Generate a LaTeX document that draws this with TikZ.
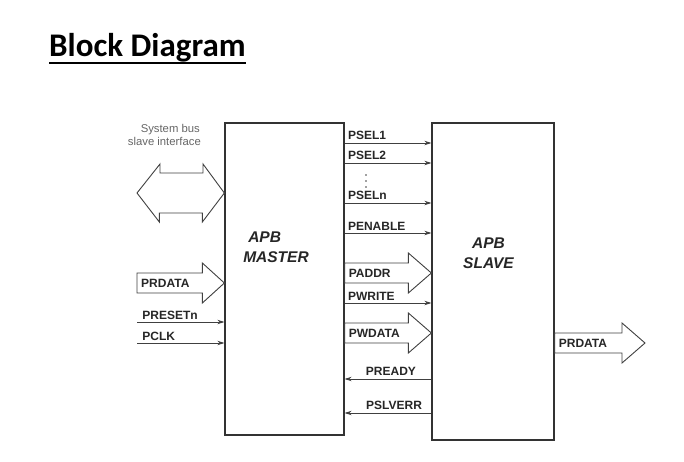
\documentclass[tikz,border=0pt]{standalone}
\usepackage{fontspec}
\setmainfont{Liberation Sans}
\newfontfamily\titlefont{Carlito}
\usetikzlibrary{arrows.meta,calc}

\tikzset{
  box/.style={draw=black!80, line width=1.3pt, minimum width=119pt, minimum height=312pt, inner sep=0},
  sig/.style={draw=black!75, line width=0.8pt},
  tip/.style={-{Stealth[length=7pt,width=4.5pt]}},
  bus/.style={draw=black!75, line width=0.9pt, fill=white},
  siglabel/.style={font=\fontsize{12}{12}\selectfont\bfseries, text=black!85, inner sep=0},
  boxname/.style={font=\fontsize{15.5}{20}\selectfont\bfseries\itshape, text=black!85, inner sep=0},
  note/.style={font=\fontsize{11.3}{11}\selectfont, text=black!60, inner sep=0, anchor=base east}
}

% wide bus arrow: start, tip, head length, label
\newcommand{\busarrow}[4]{%
  \draw[bus] ($(#1)+(0,-10)$) -- ($(#2)+(-#3,-10)$) -- ($(#2)+(-#3,-20)$) -- (#2)
    -- ($(#2)+(-#3,20)$) -- ($(#2)+(-#3,10)$) -- ($(#1)+(0,10)$) -- cycle;
  \node[siglabel, anchor=west] at ($(#1)+(4,0)$) {#4};}

\begin{document}
\begin{tikzpicture}[x=1pt, y=-1pt]
  \useasboundingbox (0,0) rectangle (684,462);

  \node[anchor=base west, inner sep=0, font=\titlefont\fontsize{33}{33}\selectfont\bfseries] (title) at (49,57) {Block Diagram};
  \draw[line width=1.8pt] ([yshift=-6pt]title.base west) -- ([yshift=-6pt]title.base east);

  \node[box] (master) at (284.5,279) {};
  \node[box, minimum width=122pt, minimum height=317pt] (slave) at (493,281.5) {};

  \node[boxname, align=left] (mastername) at (276,247) {\hspace*{5pt}APB\\MASTER};
  \node[boxname, align=center] (slavename) at (488.5,253) {APB\\SLAVE};

  % system bus side
  \node[note] (sysbus1) at (200,133) {System bus};
  \node[note] (sysbus2) at (201,146) {slave interface};
  \coordinate (sysbus) at (137,193);
  \draw[bus] (sysbus) -- ++(23,-29) -- ++(0,9) -- ++(43,0) -- ++(0,-9)
    -- (master.west |- sysbus) -- ++(-22,29) -- ++(0,-9) -- ++(-43,0) -- ++(0,9) -- cycle;

  \coordinate (prdataIn) at (137,283);
  \coordinate (prdataM) at (master.west |- prdataIn);
  \busarrow{prdataIn}{prdataM}{22}{PRDATA}

  \coordinate (presetn) at (137,322);
  \coordinate (pclk) at (137,343);
  \draw[sig, tip] (presetn) -- (master.west |- presetn)
    node[siglabel, pos=0, anchor=base west, xshift=5pt, yshift=3pt] (presetnlabel) {PRESETn};
  \draw[sig, tip] (pclk) -- (master.west |- pclk)
    node[siglabel, pos=0, anchor=base west, xshift=5pt, yshift=3pt] (pclklabel) {PCLK};

  % master to slave
  \coordinate (psel1) at (0,143);
  \coordinate (psel2) at (0,163);
  \coordinate (pseln) at (0,203);
  \coordinate (penable) at (0,233);
  \coordinate (paddr) at (0,273);
  \coordinate (pwrite) at (0,303);
  \coordinate (pwdata) at (0,333);
  \coordinate (pready) at (0,379);
  \coordinate (pslverr) at (0,413);

  \draw[sig, tip] (master.east |- psel1) -- (slave.west |- psel1)
    node[siglabel, pos=0, anchor=base west, xshift=3pt, yshift=3pt] (psel1label) {PSEL1};
  \draw[sig, tip] (master.east |- psel2) -- (slave.west |- psel2)
    node[siglabel, pos=0, anchor=base west, xshift=3pt, yshift=3pt] (psel2label) {PSEL2};
  \foreach \y in {175,181,187} \fill[black!75] (366,\y) circle (0.9pt);
  \draw[sig, tip] (master.east |- pseln) -- (slave.west |- pseln)
    node[siglabel, pos=0, anchor=base west, xshift=3pt, yshift=3pt] (psellabel) {PSELn};
  \draw[sig, tip] (master.east |- penable) -- (slave.west |- penable)
    node[siglabel, pos=0, anchor=base west, xshift=3pt, yshift=3pt] (penablelabel) {PENABLE};

  \coordinate (paddrM) at (master.east |- paddr);
  \coordinate (paddrS) at (slave.west |- paddr);
  \busarrow{paddrM}{paddrS}{23}{PADDR}

  \draw[sig, tip] (master.east |- pwrite) -- (slave.west |- pwrite)
    node[siglabel, pos=0, anchor=base west, xshift=3pt, yshift=3pt] (pwritelabel) {PWRITE};

  \coordinate (pwdataM) at (master.east |- pwdata);
  \coordinate (pwdataS) at (slave.west |- pwdata);
  \busarrow{pwdataM}{pwdataS}{23}{PWDATA}

  % slave to master
  \draw[sig, tip] (slave.west |- pready) -- (master.east |- pready)
    node[siglabel, pos=0, anchor=base east, xshift=-15pt, yshift=4pt] (preadylabel) {PREADY};
  \draw[sig, tip] (slave.west |- pslverr) -- (master.east |- pslverr)
    node[siglabel, pos=0, anchor=base east, xshift=-9pt, yshift=4pt] (pslverrlabel) {PSLVERR};

  % slave output
  \coordinate (prdataOut) at (645,343);
  \coordinate (prdataS) at (slave.east |- prdataOut);
  \busarrow{prdataS}{prdataOut}{23}{PRDATA}
\end{tikzpicture}
\end{document}
